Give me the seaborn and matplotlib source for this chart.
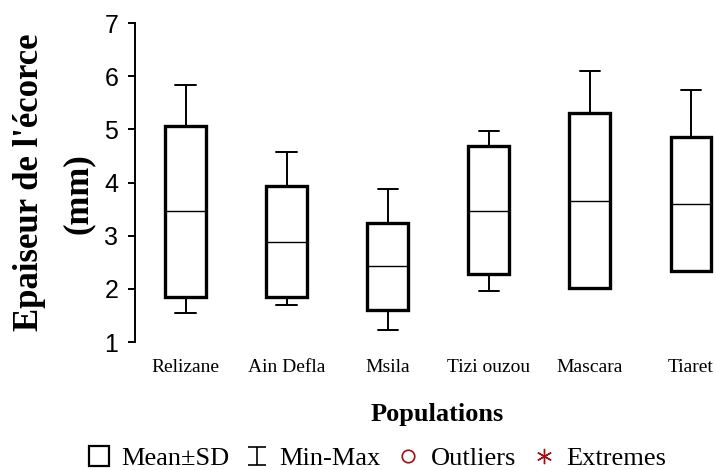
import numpy as np
import pandas as pd
import matplotlib
matplotlib.use("Agg")
import matplotlib.pyplot as plt
import seaborn as sns
from matplotlib.lines import Line2D
from matplotlib.path import Path
from matplotlib.font_manager import FontProperties

# ---- data ----
populations = ["Relizane", "Ain Defla", "Msila", "Tizi ouzou", "Mascara", "Tiaret"]
minimum = [1.55, 1.70, 1.23, 1.95, 2.02, 2.33]
mean_minus_sd = [1.85, 1.85, 1.61, 2.27, 2.02, 2.33]
mean = [3.46, 2.89, 2.43, 3.47, 3.66, 3.59]
mean_plus_sd = [5.06, 3.93, 3.23, 4.68, 5.31, 4.85]
maximum = [5.83, 4.57, 3.87, 4.97, 6.09, 5.74]
y_ticks = [1, 2, 3, 4, 5, 6, 7]
legend_labels = ["Mean±SD", "Min-Max", "Outliers", "Extremes"]

# five summary values per group -> quartiles/median/whiskers reproduce mean±SD / min-max
rows = []
for i, p in enumerate(populations):
    for v in (minimum[i], mean_minus_sd[i], mean[i], mean_plus_sd[i], maximum[i]):
        rows.append({"Population": p, "value": v})
df = pd.DataFrame(rows)

sns.set_theme(style="ticks")
plt.rcParams["text.color"] = "black"
plt.rcParams["axes.labelcolor"] = "black"
plt.rcParams["xtick.color"] = "black"
plt.rcParams["ytick.color"] = "black"
serif = "Liberation Serif"
sans = "Liberation Sans"

fig = plt.figure(figsize=(7.16, 4.70), dpi=100)
ax = fig.add_axes([135 / 716, 1 - 342 / 470, 1 - 135 / 716, (342 - 23) / 470])

sns.boxplot(data=df, x="Population", y="value", order=populations, whis=np.inf,
            width=0.4, color="white", linecolor="black", linewidth=1.4,
            boxprops=dict(linewidth=2.4), whiskerprops=dict(linewidth=1.4),
            capprops=dict(linewidth=1.4), medianprops=dict(linewidth=1.0),
            ax=ax)

ax.set_xlim(-0.5, 5.25)
ax.set_ylim(1, 7)
ax.set_yticks(y_ticks)
ax.set_xlabel("")
ax.set_ylabel("")
for s in ["top", "right", "bottom"]:
    ax.spines[s].set_visible(False)
ax.spines["left"].set_linewidth(1.4)
ax.spines["left"].set_color("black")
ax.tick_params(axis="y", direction="out", length=5, width=1.4, pad=7, labelsize=18,
               colors="black", labelcolor="black")
ax.tick_params(axis="x", length=0, pad=12, labelsize=14, colors="black", labelcolor="black")
for t in ax.get_yticklabels():
    t.set_fontfamily(sans)
for t in ax.get_xticklabels():
    t.set_fontfamily(serif)

fig.text(30 / 716, 1 - 182 / 470, "Epaiseur de l'écorce", rotation=90, ha="center", va="center",
         fontsize=25, fontweight="bold", family=serif, color="black")
fig.text(78 / 716, 1 - 194 / 470, "(mm)", rotation=90, ha="center", va="center",
         fontsize=25, fontweight="bold", family=serif, color="black")
fig.text(437 / 716, 1 - 415 / 470, "Populations", ha="center", va="center",
         fontsize=19, fontweight="bold", family=serif, color="black")

ibeam = Path([(-1, 1), (1, 1), (0, 1), (0, -1), (-1, -1), (1, -1)],
             [Path.MOVETO, Path.LINETO, Path.MOVETO, Path.LINETO, Path.MOVETO, Path.LINETO])
red = "#a01010"
handles = [
    Line2D([], [], marker="s", markersize=15, markerfacecolor="none", markeredgecolor="black",
           markeredgewidth=1.6, linestyle="none"),
    Line2D([], [], marker=ibeam, markersize=13, color="black", markeredgewidth=1.2, linestyle="none"),
    Line2D([], [], marker="o", markersize=9, markerfacecolor="none", markeredgecolor=red,
           markeredgewidth=1.2, linestyle="none"),
    Line2D([], [], marker=(6, 2, 0), markersize=11, color=red, markeredgewidth=1.0, linestyle="none"),
]
leg = fig.legend(handles, legend_labels, loc="center", bbox_to_anchor=(376 / 716, 1 - 458 / 470),
                 ncol=4, frameon=False, prop=FontProperties(family=serif, size=19),
                 handlelength=1.0, handletextpad=0.35, columnspacing=0.55, borderpad=0)
for t in leg.get_texts():
    t.set_color("black")

fig.savefig("out.png", dpi=100)
